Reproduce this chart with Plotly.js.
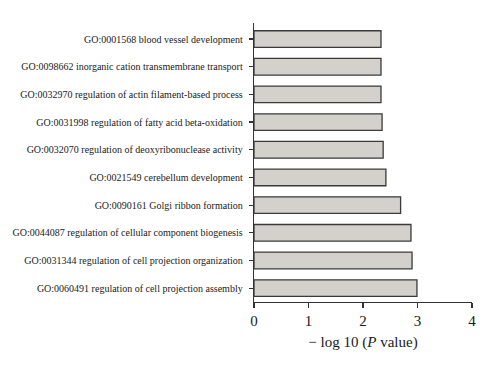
<!DOCTYPE html>
<html>
<head>
<meta charset="utf-8">
<script src="https://cdn.plot.ly/plotly-3.0.1.min.js"></script>
<style>html,body{margin:0;padding:0;background:#fff;}#chart{width:500px;height:374px;}</style>
</head>
<body>
<div id="chart"></div>
<script>
// Terms listed top to bottom as in the figure
const terms = [
  "GO:0001568 blood vessel development",
  "GO:0098662 inorganic cation transmembrane transport",
  "GO:0032970 regulation of actin filament-based process",
  "GO:0031998 regulation of fatty acid beta-oxidation",
  "GO:0032070 regulation of deoxyribonuclease activity",
  "GO:0021549 cerebellum development",
  "GO:0090161 Golgi ribbon formation",
  "GO:0044087 regulation of cellular component biogenesis",
  "GO:0031344 regulation of cell projection organization",
  "GO:0060491 regulation of cell projection assembly"
];
const negLogP = [2.33, 2.33, 2.33, 2.35, 2.37, 2.42, 2.69, 2.88, 2.90, 2.99];
const xTicks = [0, 1, 2, 3, 4];

const serif = "'Liberation Serif', 'DejaVu Serif', serif";

const trace = {
  type: "bar",
  orientation: "h",
  x: negLogP,
  y: terms,
  width: 0.6,
  marker: {color: "#d4d0cc", line: {color: "#3a3a3a", width: 1.3}},
  hoverinfo: "x+y"
};

const layout = {
  width: 500, height: 374,
  margin: {l: 254, r: 28, t: 23, b: 72},
  paper_bgcolor: "#fff", plot_bgcolor: "#fff",
  showlegend: false,
  bargap: 0.4,
  xaxis: {
    range: [0, 4], tickvals: xTicks, ticktext: xTicks.map(String),
    showgrid: false, zeroline: false, showline: true,
    linecolor: "#333", linewidth: 1.3,
    ticks: "outside", ticklen: 5, tickwidth: 1.2, tickcolor: "#333",
    tickfont: {family: serif, size: 15, color: "#1a1a1a"},
    title: {text: "− log 10 (<i>P</i> value)", font: {family: serif, size: 15, color: "#1a1a1a"}, standoff: 8}
  },
  yaxis: {
    type: "category", categoryorder: "array", categoryarray: terms,
    range: [9.5, -0.58],
    showgrid: false, zeroline: false, showline: true,
    linecolor: "#333", linewidth: 1.3,
    ticks: "outside", ticklen: 4, tickwidth: 1.2, tickcolor: "#333",
    ticklabelstandoff: 4,
    tickfont: {family: serif, size: 10, color: "#1a1a1a"}
  }
};

Plotly.newPlot("chart", [trace], layout, {displayModeBar: false, staticPlot: true});
</script>
</body>
</html>
